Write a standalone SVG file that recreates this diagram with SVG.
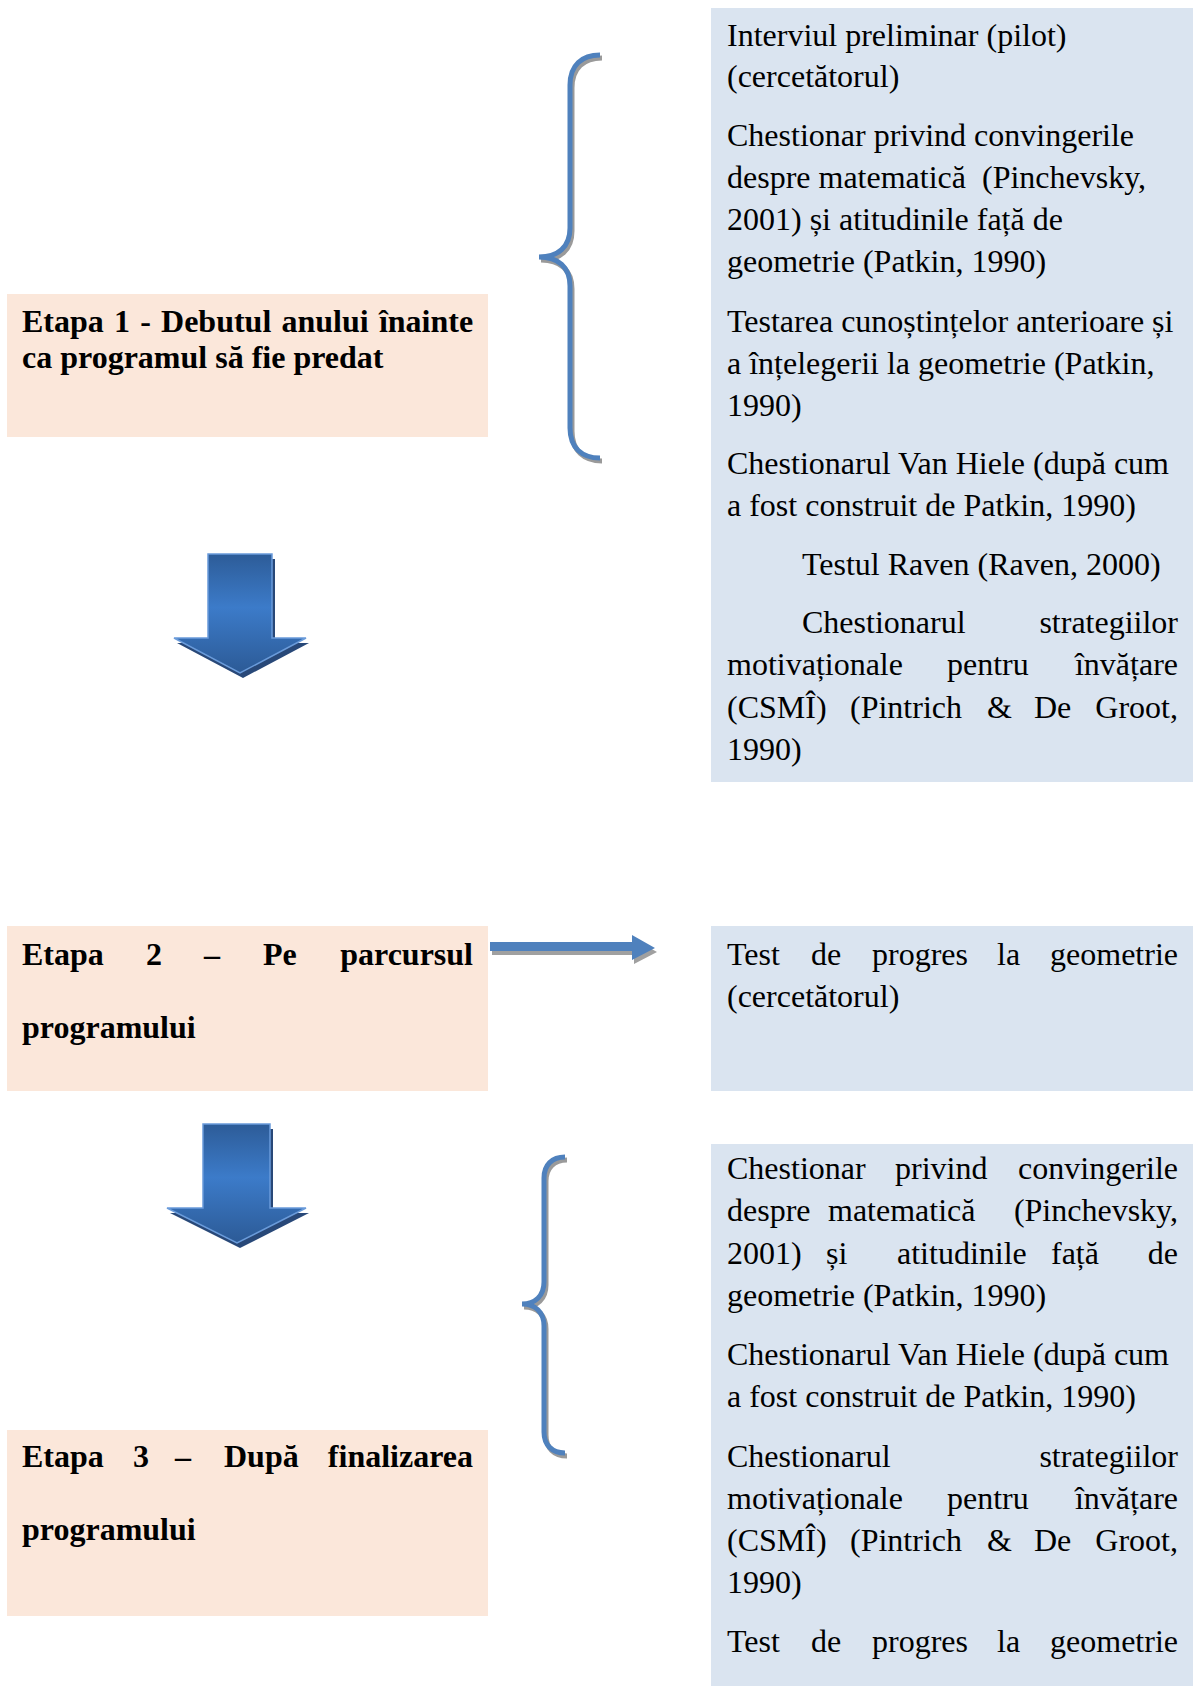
<svg xmlns="http://www.w3.org/2000/svg" width="1193" height="1686" viewBox="0 0 1193 1686">
<style>
.stage{fill:#FBE7DA}
.list{fill:#DAE4F0}
.b{font-family:"Liberation Serif","Times New Roman",serif;font-weight:bold;font-size:32px;fill:#000}
.t{font-family:"Liberation Serif","Times New Roman",serif;font-size:32px;fill:#000}
.e{text-anchor:end}
.brace{fill:none;stroke:#4F81BD;stroke-width:5;stroke-linecap:butt}
.braceSh{fill:none;stroke:#9A9A9A;stroke-width:5}
.darr{fill:url(#dg);stroke:#6A9BDA;stroke-width:1.5}
.darrSh{fill:#284878}
</style>
<defs>
<linearGradient id="dg" x1="0" y1="0" x2="0" y2="1">
<stop offset="0" stop-color="#2D5C98"/>
<stop offset="0.45" stop-color="#3C7BC9"/>
<stop offset="1" stop-color="#2C5A96"/>
</linearGradient>
</defs>
<rect width="1193" height="1686" fill="#fff"/>

<g id="etapa1">
<rect class="stage" x="7" y="294" width="481" height="143"/>
<text class="b" x="22" y="332" word-spacing="2.2">Etapa 1 - Debutul anului înainte</text>
<text class="b" x="22" y="368">ca programul să fie predat</text>
</g>

<g id="instrumente1">
<rect class="list" x="711" y="8" width="482" height="774"/>
<text class="t" x="727" y="46">Interviul preliminar (pilot)</text>
<text class="t" x="727" y="87">(cercetătorul)</text>
<text class="t" x="727" y="146">Chestionar privind convingerile</text>
<text class="t" x="727" y="188" xml:space="preserve">despre matematică  (Pinchevsky,</text>
<text class="t" x="727" y="230">2001) și atitudinile față de</text>
<text class="t" x="727" y="272">geometrie (Patkin, 1990)</text>
<text class="t" x="727" y="332">Testarea cunoștințelor anterioare și</text>
<text class="t" x="727" y="374">a înțelegerii la geometrie (Patkin,</text>
<text class="t" x="727" y="416">1990)</text>
<text class="t" x="727" y="474">Chestionarul Van Hiele (după cum</text>
<text class="t" x="727" y="516">a fost construit de Patkin, 1990)</text>
<text class="t" x="802" y="575">Testul Raven (Raven, 2000)</text>
<text class="t" x="802" y="633">Chestionarul</text>
<text class="t e" x="1178" y="633">strategiilor</text>
<text class="t" x="727" y="675">motivaționale</text>
<text class="t" x="947" y="675">pentru</text>
<text class="t e" x="1178" y="675">învățare</text>
<text class="t" x="727" y="718">(CSMÎ)</text>
<text class="t" x="850" y="718">(Pintrich</text>
<text class="t" x="987" y="718">&amp;</text>
<text class="t" x="1034" y="718">De</text>
<text class="t e" x="1178" y="718">Groot,</text>
<text class="t" x="727" y="760">1990)</text>
</g>

<g id="etapa2">
<rect class="stage" x="7" y="926" width="481" height="165"/>
<text class="b" x="22" y="965">Etapa</text>
<text class="b" x="146" y="965">2</text>
<text class="b" x="204" y="965">–</text>
<text class="b" x="263" y="965">Pe</text>
<text class="b e" x="473" y="965">parcursul</text>
<text class="b" x="22" y="1038">programului</text>
</g>

<g id="instrumente2">
<rect class="list" x="711" y="926" width="482" height="165"/>
<text class="t" x="727" y="965">Test</text>
<text class="t" x="811" y="965">de</text>
<text class="t" x="872" y="965">progres</text>
<text class="t" x="997" y="965">la</text>
<text class="t e" x="1178" y="965">geometrie</text>
<text class="t" x="727" y="1007">(cercetătorul)</text>
</g>

<g id="etapa3">
<rect class="stage" x="7" y="1430" width="481" height="186"/>
<text class="b" x="22" y="1467">Etapa</text>
<text class="b" x="133" y="1467">3</text>
<text class="b" x="175" y="1467">–</text>
<text class="b" x="224" y="1467">După</text>
<text class="b e" x="473" y="1467">finalizarea</text>
<text class="b" x="22" y="1540">programului</text>
</g>

<g id="instrumente3">
<rect class="list" x="711" y="1144" width="482" height="542"/>
<text class="t" x="727" y="1179">Chestionar</text>
<text class="t" x="895" y="1179">privind</text>
<text class="t e" x="1178" y="1179">convingerile</text>
<text class="t" x="727" y="1221">despre</text>
<text class="t" x="828" y="1221">matematică</text>
<text class="t e" x="1178" y="1221">(Pinchevsky,</text>
<text class="t" x="727" y="1264">2001)</text>
<text class="t" x="826" y="1264">și</text>
<text class="t" x="897" y="1264">atitudinile</text>
<text class="t" x="1051" y="1264">față</text>
<text class="t e" x="1178" y="1264">de</text>
<text class="t" x="727" y="1306">geometrie (Patkin, 1990)</text>
<text class="t" x="727" y="1365">Chestionarul Van Hiele (după cum</text>
<text class="t" x="727" y="1407">a fost construit de Patkin, 1990)</text>
<text class="t" x="727" y="1467">Chestionarul</text>
<text class="t e" x="1178" y="1467">strategiilor</text>
<text class="t" x="727" y="1509">motivaționale</text>
<text class="t" x="947" y="1509">pentru</text>
<text class="t e" x="1178" y="1509">învățare</text>
<text class="t" x="727" y="1551">(CSMÎ)</text>
<text class="t" x="850" y="1551">(Pintrich</text>
<text class="t" x="987" y="1551">&amp;</text>
<text class="t" x="1034" y="1551">De</text>
<text class="t e" x="1178" y="1551">Groot,</text>
<text class="t" x="727" y="1593">1990)</text>
<text class="t" x="727" y="1652">Test</text>
<text class="t" x="811" y="1652">de</text>
<text class="t" x="872" y="1652">progres</text>
<text class="t" x="997" y="1652">la</text>
<text class="t e" x="1178" y="1652">geometrie</text>
</g>

<g id="connectors">
<path class="braceSh" transform="translate(2,3)" d="M600 55 C582 55 570 65 570 85 L570 228 C570 247 558 257 539 257 C558 257 570 267 570 286 L570 428 C570 448 582 458 600 458"/>
<path class="brace" d="M600 55 C582 55 570 65 570 85 L570 228 C570 247 558 257 539 257 C558 257 570 267 570 286 L570 428 C570 448 582 458 600 458"/>
<path class="braceSh" transform="translate(2,3)" d="M565 1157 C552 1157 544 1165 544 1178 L544 1282 C544 1296 535 1304 522 1304 C535 1304 544 1312 544 1326 L544 1432 C544 1445 552 1453 565 1453"/>
<path class="brace" d="M565 1157 C552 1157 544 1165 544 1178 L544 1282 C544 1296 535 1304 522 1304 C535 1304 544 1312 544 1326 L544 1432 C544 1445 552 1453 565 1453"/>
<path class="darrSh" transform="translate(3,5)" d="M208 554 L272 554 L272 638 L306 638 L240 673 L174 638 L208 638 Z"/>
<path class="darr" d="M208 554 L272 554 L272 638 L306 638 L240 673 L174 638 L208 638 Z"/>
<path class="darrSh" transform="translate(3,5)" d="M203 1124 L270 1124 L270 1208 L306 1208 L237 1243 L167 1208 L203 1208 Z"/>
<path class="darr" d="M203 1124 L270 1124 L270 1208 L306 1208 L237 1243 L167 1208 L203 1208 Z"/>
<path fill="#A0A0A0" transform="translate(2,4)" d="M490 942 L632 942 L632 935 L655 948 L632 960 L632 951 L490 951 Z"/>
<path fill="#4F81BD" d="M490 942 L632 942 L632 935 L655 948 L632 960 L632 951 L490 951 Z"/>
</g>
</svg>
